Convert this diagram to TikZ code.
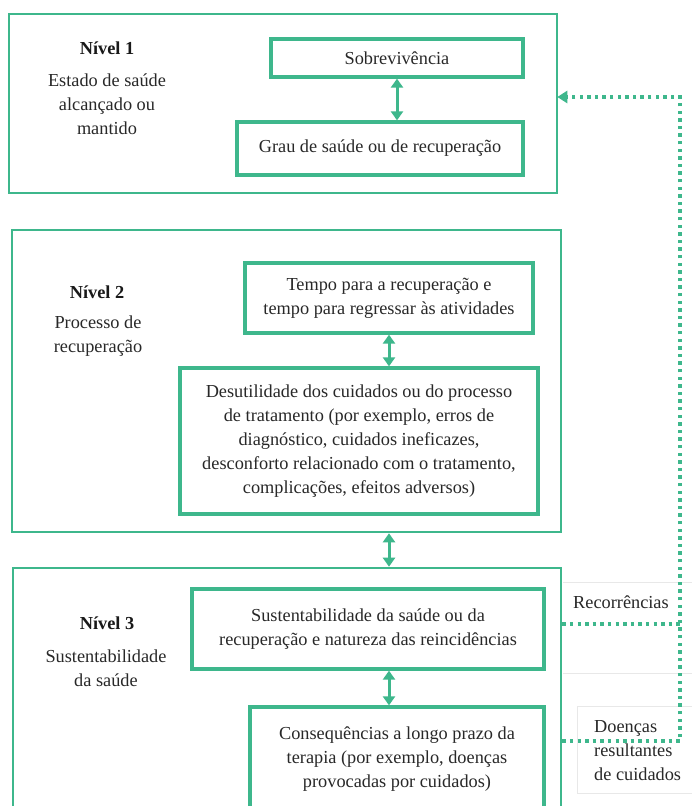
\documentclass[tikz,border=0pt]{standalone}
\usepackage{fontspec}
\setmainfont{Liberation Serif}
\usetikzlibrary{arrows.meta}
\definecolor{grn}{RGB}{62,183,140}
\definecolor{txt}{RGB}{40,40,40}
\definecolor{faint}{RGB}{232,232,232}
\newcommand{\bodyfont}{\fontsize{18.3}{24}\selectfont}
\begin{document}
\begin{tikzpicture}[x=1pt,y=-1pt,
  outerbox/.style={draw=grn, line width=2.6pt, inner sep=0pt},
  innerbox/.style={draw=grn, line width=3.3pt, inner sep=0pt, align=center, text=txt, font=\bodyfont},
  titletext/.style={font=\bodyfont\bfseries, text=black!90, inner sep=0pt},
  desc/.style={font=\bodyfont, text=txt, align=center, inner sep=0pt},
  side/.style={font=\bodyfont, text=txt, align=left, inner sep=0pt, anchor=west},
  dbl/.style={draw=grn, line width=3pt, {Triangle[length=9pt,width=12pt]}-{Triangle[length=9pt,width=12pt]}},
  dotline/.style={draw=grn, line width=3.4pt, dash pattern=on 3.4pt off 4.2pt},
  faintframe/.style={draw=faint, line width=0.8pt}
]
\useasboundingbox (0,0) rectangle (692,806);
\clip (0,0) rectangle (692,806);
\fill[white] (0,0) rectangle (692,806);

% faint frames of the side labels
\draw[faintframe] (563,582) -- (700,582);
\draw[faintframe] (563,673) -- (700,673);
\draw[faintframe] (700,706) -- (577,706) -- (577,793) -- (700,793);

% level boxes
\node[outerbox, minimum width=548pt, minimum height=179pt] (box1) at (283,103.5) {};
\node[outerbox, minimum width=549pt, minimum height=302pt] (box2) at (286.5,381) {};
\node[outerbox, minimum width=548pt, minimum height=272pt] (box3) at (287,704) {};

% level texts
\node[titletext] (t1) at (107,48) {Nível 1};
\node[desc] (d1) at (107,104) {Estado de saúde\\alcançado ou\\mantido};
\node[titletext] (t2) at (97,292) {Nível 2};
\node[desc] (d2) at (98,336) {Processo de\\recuperação};
\node[titletext] (t3) at (107,623) {Nível 3};
\node[desc] (d3) at (106,668) {Sustentabilidade\\da saúde};

% inner boxes
\node[innerbox, minimum width=252pt, minimum height=38pt] (sob) at (397,58) {Sobrevivência};
\node[innerbox, minimum width=286pt, minimum height=53pt] (grau) at (380,148.5) {Grau de saúde ou de recuperação};
\node[innerbox, minimum width=288pt, minimum height=70pt] (tempo) at (389,298) {Tempo para a recuperação e\\tempo para regressar às atividades};
\node[innerbox, minimum width=358pt, minimum height=146pt] (desu) at (359,441) {Desutilidade dos cuidados ou do processo\\de tratamento (por exemplo, erros de\\diagnóstico, cuidados ineficazes,\\desconforto relacionado com o tratamento,\\complicações, efeitos adversos)};
\node[innerbox, minimum width=352pt, minimum height=80pt] (sust) at (368,629) {Sustentabilidade da saúde ou da\\recuperação e natureza das reincidências};
\node[innerbox, minimum width=294pt, minimum height=105pt] (cons) at (397,759.5) {Consequências a longo prazo da\\terapia (por exemplo, doenças\\provocadas por cuidados)};

% double arrows
\draw[dbl] (sob.south) -- (sob.south |- grau.north);
\draw[dbl] (tempo.south) -- (tempo.south |- desu.north);
\draw[dbl] (box2.south -| tempo.south) -- (box3.north -| tempo.south);
\draw[dbl] (sust.south -| tempo.south) -- (cons.north -| tempo.south);

% side labels
\node[side] (rec) at (573,602) {Recorrências};
\node[side] (doe) at (594,750.5) {Doenças\\resultantes\\de cuidados};

% dotted feedback connectors
\coordinate (ry) at (0,624);
\coordinate (dy) at (0,741);
\coordinate (ay) at (0,97);
\coordinate (rc) at (680,624);
\coordinate (dc) at (680,741);
\coordinate (tc) at (680,97);
\draw[dotline] (box3.east |- ry) -- (rc);
\draw[dotline, -{Triangle[length=10pt,width=12pt]}, shorten >=-1pt] (box3.east |- dy) -- (dc) -- (tc) -- (box1.east |- ay);
\end{tikzpicture}
\end{document}
